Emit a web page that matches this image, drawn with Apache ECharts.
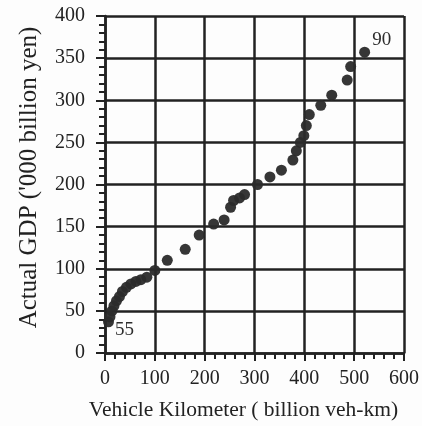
<!DOCTYPE html>
<html>
<head>
<meta charset="utf-8">
<script src="https://cdn.jsdelivr.net/npm/echarts@6/dist/echarts.min.js"></script>
<style>
  html, body { margin: 0; padding: 0; background: #fdfdfd; }
  #chart { width: 422px; height: 426px; }
</style>
</head>
<body>
<div id="chart"></div>
<script>
// Fiscal years 1955–1990 (two-digit labels)
const years = [55,56,57,58,59,60,61,62,63,64,65,66,67,68,69,70,71,72,
               73,74,75,76,77,78,79,80,81,82,83,84,85,86,87,88,89,90];
// Vehicle kilometres travelled (billion veh-km)
const vehicleKm = [7,10,14,18,23,29,35,43,52,62,72,84,100,125,161,189,218,239,
                   252,258,270,280,306,331,354,377,384,392,399,404,410,433,455,486,493,521];
// Real GDP ('000 billion yen)
const gdp = [37,43,50,56,62,67,73,78,82,85,87,90,98,110,123,140,153,158,
             173,181,184,188,200,209,217,229,240,250,258,270,283,294,306,324,340,357];

const xTicks = [0,100,200,300,400,500,600];
const yTicks = [0,50,100,150,200,250,300,350,400];

const ink = '#222222';
const serif = '"Liberation Serif", "Times New Roman", serif';

// first and last years are annotated beside their points
const points = years.map((yr, i) => {
  const item = { value: [vehicleKm[i], gdp[i]] };
  if (i === 0) {
    item.label = { show: true, formatter: String(yr), position: 'right',
                   offset: [-4, 8], fontSize: 19, color: ink, fontFamily: serif };
  } else if (i === years.length - 1) {
    item.label = { show: true, formatter: String(yr), position: 'right',
                   offset: [-3, -12], fontSize: 19, color: ink, fontFamily: serif };
  }
  return item;
});

const chart = echarts.init(document.getElementById('chart'), null, { renderer: 'canvas' });
chart.setOption({
  backgroundColor: '#fdfdfd',
  animation: false,
  grid: { left: 105, right: 13, top: 16, bottom: 72, containLabel: false },
  xAxis: {
    type: 'value',
    min: xTicks[0], max: xTicks[xTicks.length - 1], interval: 100,
    name: 'Vehicle Kilometer ( billion veh-km)',
    nameLocation: 'middle', nameGap: 46,
    nameTextStyle: { fontFamily: serif, fontSize: 21.5, color: ink, padding: [0, 22, 0, 0] },
    axisLine: { show: true, lineStyle: { color: ink, width: 2.5 } },
    axisTick: { show: true, inside: false, length: 8, lineStyle: { color: ink, width: 2 } },
    minorTick: { show: true, splitNumber: 5, length: 6, lineStyle: { color: ink, width: 2 } },
    axisLabel: { fontFamily: serif, fontSize: 20, color: ink, margin: 16,
                 formatter: v => xTicks.includes(v) ? String(v) : '' },
    splitLine: { show: true, lineStyle: { color: ink, width: 2.5 } }
  },
  yAxis: {
    type: 'value',
    min: yTicks[0], max: yTicks[yTicks.length - 1], interval: 50,
    name: "Actual GDP ('000 billion yen)",
    nameLocation: 'middle', nameGap: 63, nameRotate: 90,
    nameTextStyle: { fontFamily: serif, fontSize: 25, color: ink, padding: [0, 0, 0, 14] },
    axisLine: { show: true, lineStyle: { color: ink, width: 2.5 } },
    axisTick: { show: true, inside: false, length: 9, lineStyle: { color: ink, width: 2 } },
    minorTick: { show: true, splitNumber: 5, length: 6, lineStyle: { color: ink, width: 2 } },
    axisLabel: { fontFamily: serif, fontSize: 20, color: ink, margin: 20,
                 padding: [0, 0, 8, 0],
                 formatter: v => yTicks.includes(v) ? String(v) : '' },
    splitLine: { show: true, lineStyle: { color: ink, width: 2.5 } }
  },
  series: [{
    type: 'scatter',
    data: points,
    symbol: 'circle',
    symbolSize: 11,
    itemStyle: { color: '#2b2b2b', opacity: 0.95 },
    z: 5
  }]
});
</script>
</body>
</html>
